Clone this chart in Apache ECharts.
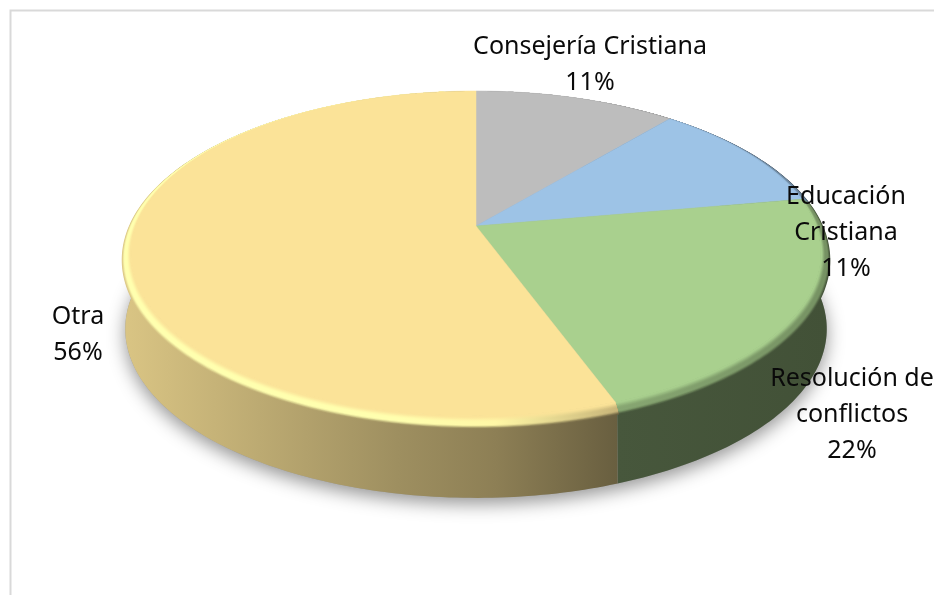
<!DOCTYPE html>
<html>
<head>
<meta charset="utf-8">
<style>html,body{margin:0;padding:0;background:#fff}#c{width:934px;height:595px}</style>
<script src="https://cdn.jsdelivr.net/npm/echarts@6/dist/echarts.min.js"></script>
</head>
<body>
<div id="c"></div>
<script>
const categories = ['Consejería Cristiana', 'Educación\nCristiana', 'Resolución de\nconflictos', 'Otra'];
const values = [11.1, 11.1, 22.2, 55.6];
const colors = [[189,189,189], [157,195,230], [169,208,142], [251,227,152]];
const labelCentres = [[590, 65], [846, 233], [852, 415], [78, 335]];

const total = values.reduce((a, b) => a + b, 0);
const starts = [];
values.reduce((s, v, i) => (starts[i] = s, s + v), 0);

// perspective projection of the unit disc on to the page
const AX = 476, AY = 226, A = 340, B = 157.8, K = 0.169;
function proj(deg, t) {
  const r = deg * Math.PI / 180, x = Math.sin(r), y = Math.cos(r);
  const d = 1 + K * y;
  const X = A * x / d, Y = -B * y / d;
  const sx = 1 + 0.027 * t;
  const Yt = -135 + (Y + 135) * (1 + 0.04 * t);
  return [AX + X * sx, AY + Yt];
}
function base(deg) {
  const p = proj(deg, 1);
  return [AX + (p[0] - AX) * 0.99, p[1] + 69];
}
function arc(a0, a1, fn) {
  const pts = [], n = Math.max(2, Math.ceil(Math.abs(a1 - a0)));
  for (let i = 0; i <= n; i++) pts.push(fn(a0 + (a1 - a0) * i / n));
  return pts;
}
const mix = (a, b, t) => a.map((v, i) => v + (b[i] - v) * t);
const scale = (c, f) => c.map(v => Math.min(255, v * f));
const css = c => `rgb(${c.map(Math.round).join(',')})`;
const smooth = t => t * t * (3 - 2 * t);

const XL = 122, XR = 828;
const stopsAt = [0, 0.39, 0.53, 0.70, 1];
const sideF = [0.87, 0.63, 0.56, 0.42, 0.39];
const peakF = [1.15, 1.15, 1.09, 0.80, 0.70];
function grad(fn) {
  return new echarts.graphic.LinearGradient(XL, 0, XR, 0,
    stopsAt.map((o, i) => ({ offset: o, color: css(fn(i)) })), true);
}
function sliceAngles(i) {
  return [starts[i] / total * 360, (starts[i] + values[i]) / total * 360];
}

function renderShadow() {
  return {
    type: 'polygon',
    shape: { points: arc(0, 360, base) },
    style: { fill: '#9a9a9a', shadowColor: 'rgba(0,0,0,0.42)', shadowBlur: 18, shadowOffsetY: 6 }
  };
}
function renderSide(params) {
  const i = params.dataIndex, c = colors[i], [a0, a1] = sliceAngles(i);
  const pts = arc(a0, a1, d => proj(d, 0.5)).concat(arc(a1, a0, base));
  return { type: 'polygon', shape: { points: pts }, style: { fill: grad(k => scale(c, sideF[k])) } };
}
const RIM_LAYERS = 14;
function renderRim(params) {
  const i = params.dataIndex, c = colors[i], [a0, a1] = sliceAngles(i);
  const els = [];
  for (let b = 0; b < RIM_LAYERS; b++) {
    const outer = 1 - b / RIM_LAYERS, u = outer - 0.5 / RIM_LAYERS;
    const poly = arc(a0, a1, d => proj(d, 0)).concat(arc(a1, a0, d => proj(d, outer)));
    els.push({
      type: 'polygon',
      shape: { points: poly },
      style: {
        fill: grad(k => {
          const peak = scale(c, peakF[k]), side = scale(c, sideF[k]);
          if (u < 0.5) return mix(c, peak, smooth(u / 0.5));
          if (u < 0.68) return peak;
          return mix(peak, side, smooth((u - 0.68) / 0.32));
        })
      }
    });
  }
  return { type: 'group', children: els };
}
function renderTop(params) {
  const i = params.dataIndex, c = colors[i], [a0, a1] = sliceAngles(i);
  const pts = [[AX, AY]].concat(arc(a0, a1, d => proj(d, 0)));
  return { type: 'polygon', shape: { points: pts }, style: { fill: css(c), stroke: css(c), lineWidth: 0.5 } };
}
function renderLabel(params) {
  const i = params.dataIndex;
  return {
    type: 'text',
    style: {
      text: categories[i] + '\n' + Math.round(values[i]) + '%',
      x: labelCentres[i][0], y: labelCentres[i][1],
      fill: '#0a0a0a', fontFamily: 'Noto Sans', fontSize: 25, lineHeight: 36,
      textAlign: 'center', textVerticalAlign: 'middle'
    }
  };
}

const chart = echarts.init(document.getElementById('c'), null, { renderer: 'canvas' });
const mk = (fn, data) => ({ type: 'custom', coordinateSystem: 'none', renderItem: fn, data, animation: false, silent: true });
chart.setOption({
  animation: false,
  backgroundColor: '#ffffff',
  graphic: [{
    type: 'polyline', silent: true, z: 0,
    shape: { points: [[10.5, 600], [10.5, 10.5], [940, 10.5]] },
    style: { stroke: '#d9d9d9', lineWidth: 2, fill: null }
  }],
  series: [
    mk(renderShadow, [total]),
    mk(renderSide, values),
    mk(renderRim, values),
    mk(renderTop, values),
    mk(renderLabel, values)
  ]
});
</script>
</body>
</html>
